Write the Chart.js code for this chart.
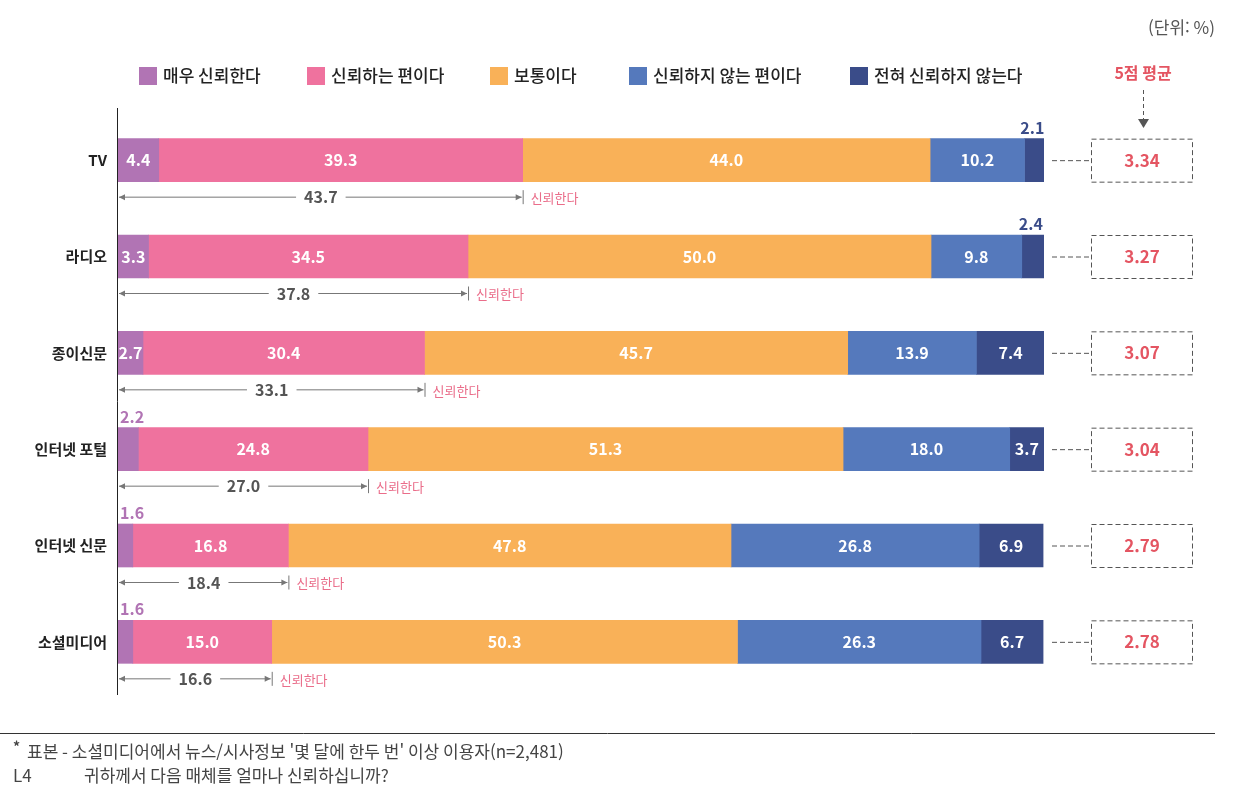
<!DOCTYPE html>
<html lang="ko">
<head>
<meta charset="utf-8">
<script src="https://cdn.jsdelivr.net/npm/chart.js@4.4.1/dist/chart.umd.min.js"></script>
<style>
  html, body { margin: 0; padding: 0; background: #fff; }
  #wrap { width: 1233px; height: 794px; position: relative; }
</style>
</head>
<body>
<div id="wrap"><canvas id="chart"></canvas></div>
<script>
const categories = ["TV", "라디오", "종이신문", "인터넷 포털", "인터넷 신문", "소셜미디어"]
const seriesNames = ["매우 신뢰한다", "신뢰하는 편이다", "보통이다", "신뢰하지 않는 편이다", "전혀 신뢰하지 않는다"]
const veryTrust = [4.4, 3.3, 2.7, 2.2, 1.6, 1.6]
const trustSome = [39.3, 34.5, 30.4, 24.8, 16.8, 15.0]
const neutral = [44.0, 50.0, 45.7, 51.3, 47.8, 50.3]
const distrustSome = [10.2, 9.8, 13.9, 18.0, 26.8, 26.3]
const distrustAll = [2.1, 2.4, 7.4, 3.7, 6.9, 6.7]
const trustTotal = [43.7, 37.8, 33.1, 27.0, 18.4, 16.6]
const averages = ["3.34", "3.27", "3.07", "3.04", "2.79", "2.78"]

const colors = ["#b174b4", "#ef729e", "#f9b158", "#5579bc", "#3a4c89"]
const FONT = "'Noto Sans CJK KR', 'Noto Sans', sans-serif"
const RED = "#e45562"

const annotations = {
  id: "annotations",
  afterDatasetsDraw(chart) {
    const { ctx, scales: { x, y } } = chart
    const area = chart.chartArea
    ctx.save()

    // vertical axis line
    ctx.strokeStyle = "#222"
    ctx.lineWidth = 1
    ctx.beginPath()
    ctx.moveTo(area.left - 0.5, area.top - 4)
    ctx.lineTo(area.left - 0.5, area.bottom + 5)
    ctx.stroke()

    // legend
    const legendX = [139, 307, 490, 629, 850]
    ctx.textBaseline = "middle"
    ctx.textAlign = "left"
    seriesNames.forEach((name, i) => {
      ctx.fillStyle = colors[i]
      ctx.fillRect(legendX[i], 67, 18, 18)
      ctx.fillStyle = "#222"
      ctx.font = "500 17px " + FONT
      ctx.fillText(name, legendX[i] + 24, 76)
    })

    // unit
    ctx.fillStyle = "#555"
    ctx.font = "17px " + FONT
    ctx.textAlign = "right"
    ctx.fillText("(단위: %)", 1215, 28)

    // 5점 평균 header + arrow
    ctx.fillStyle = RED
    ctx.font = "bold 16px " + FONT
    ctx.textAlign = "center"
    ctx.fillText("5점 평균", 1143, 73)
    ctx.strokeStyle = "#555"
    ctx.setLineDash([4, 3])
    ctx.beginPath()
    ctx.moveTo(1143.5, 90)
    ctx.lineTo(1143.5, 120)
    ctx.stroke()
    ctx.setLineDash([])
    ctx.fillStyle = "#555"
    ctx.beginPath()
    ctx.moveTo(1138, 119)
    ctx.lineTo(1149, 119)
    ctx.lineTo(1143.5, 128)
    ctx.closePath()
    ctx.fill()

    const meta = chart.getDatasetMeta(0)
    categories.forEach((cat, i) => {
      const cy = y.getPixelForValue(i)
      const half = meta.data[i].height / 2

      // category label
      ctx.fillStyle = "#222"
      ctx.font = "bold 15px " + FONT
      ctx.textAlign = "right"
      ctx.textBaseline = "middle"
      ctx.fillText(cat, 107, cy)

      // segment labels
      let start = 0
      const sets = chart.data.datasets
      sets.forEach((ds, d) => {
        const v = ds.data[i]
        const x0 = x.getPixelForValue(start)
        const x1 = x.getPixelForValue(start + v)
        start += v
        const txt = v.toFixed(1)
        ctx.font = "bold 16px " + FONT
        if (v >= 2.6) {
          ctx.fillStyle = "#fff"
          ctx.textAlign = "center"
          ctx.fillText(txt, (x0 + x1) / 2, cy)
        } else {
          ctx.fillStyle = colors[d]
          if (d === 0) {
            ctx.textAlign = "left"
            ctx.fillText(txt, x0 + 2, cy - half - 11)
          } else {
            ctx.textAlign = "center"
            ctx.fillText(txt, (x0 + x1) / 2 - 2, cy - half - 11)
          }
        }
      })

      // trust-total span arrow
      const ay = cy + half + 15.5
      const ax0 = x.getPixelForValue(0) + 1
      const ax1 = x.getPixelForValue(trustTotal[i])
      const mid = (ax0 + ax1) / 2
      const label = trustTotal[i].toFixed(1)
      ctx.font = "bold 16px " + FONT
      const tw = ctx.measureText(label).width
      ctx.strokeStyle = "#777"
      ctx.lineWidth = 1
      ctx.beginPath()
      ctx.moveTo(ax0, ay)
      ctx.lineTo(mid - tw / 2 - 8, ay)
      ctx.moveTo(mid + tw / 2 + 8, ay)
      ctx.lineTo(ax1 - 1, ay)
      ctx.moveTo(ax1 + 0.5, ay - 7)
      ctx.lineTo(ax1 + 0.5, ay + 7)
      ctx.stroke()
      ctx.fillStyle = "#777"
      ctx.beginPath()
      ctx.moveTo(ax0, ay)
      ctx.lineTo(ax0 + 6, ay - 3)
      ctx.lineTo(ax0 + 6, ay + 3)
      ctx.closePath()
      ctx.fill()
      ctx.beginPath()
      ctx.moveTo(ax1 - 1, ay)
      ctx.lineTo(ax1 - 7, ay - 3)
      ctx.lineTo(ax1 - 7, ay + 3)
      ctx.closePath()
      ctx.fill()
      ctx.fillStyle = "#555"
      ctx.textAlign = "center"
      ctx.fillText(label, mid, ay)
      ctx.fillStyle = "#ea6d8a"
      ctx.font = "13px " + FONT
      ctx.textAlign = "left"
      ctx.fillText("신뢰한다", ax1 + 8, ay + 1)

      // average box
      ctx.strokeStyle = "#555"
      ctx.setLineDash([5, 3])
      ctx.beginPath()
      ctx.moveTo(area.right + 8, cy + 0.5)
      ctx.lineTo(1091, cy + 0.5)
      ctx.stroke()
      ctx.strokeRect(1091.5, cy - half + 0.5, 101, half * 2)
      ctx.setLineDash([])
      ctx.fillStyle = RED
      ctx.font = "bold 17px " + FONT
      ctx.textAlign = "center"
      ctx.fillText(averages[i], 1142, cy)
    })

    // footer
    ctx.strokeStyle = "#333"
    ctx.lineWidth = 1
    ctx.beginPath()
    ctx.moveTo(0, 733.5)
    ctx.lineTo(1215, 733.5)
    ctx.stroke()
    ctx.fillStyle = "#444"
    ctx.textAlign = "left"
    ctx.font = "bold 14px " + FONT
    ctx.fillText("*", 13, 747)
    ctx.font = "17px " + FONT
    ctx.fillText("표본 - 소셜미디어에서 뉴스/시사정보 '몇 달에 한두 번' 이상 이용자(n=2,481)", 27, 752)
    ctx.fillText("L4", 13, 776)
    ctx.fillText("귀하께서 다음 매체를 얼마나 신뢰하십니까?", 84, 776)

    ctx.restore()
  }
}

const seriesData = [veryTrust, trustSome, neutral, distrustSome, distrustAll]

new Chart(document.getElementById("chart"), {
  type: "bar",
  data: {
    labels: categories,
    datasets: seriesData.map((d, i) => ({
      label: seriesNames[i],
      data: d,
      backgroundColor: colors[i],
      borderWidth: 0,
      barThickness: 43
    }))
  },
  options: {
    indexAxis: "y",
    responsive: true,
    maintainAspectRatio: false,
    animation: false,
    layout: { padding: { left: 118, right: 189, top: 112, bottom: 104 } },
    plugins: {
      legend: { display: false },
      tooltip: { enabled: false }
    },
    scales: {
      x: { stacked: true, min: 0, max: 100, display: false },
      y: { stacked: true, display: false }
    }
  },
  plugins: [annotations]
})
</script>
</body>
</html>
